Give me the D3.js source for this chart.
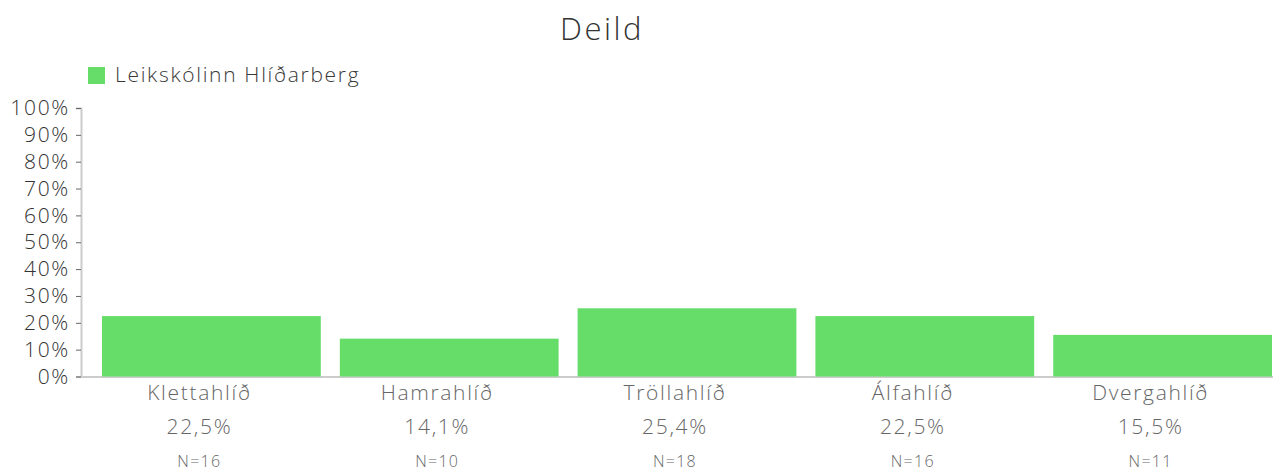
<!DOCTYPE html>
<html>
<head>
<meta charset="utf-8">
<script src="https://cdn.jsdelivr.net/npm/d3@7"></script>
<style>
  body { margin: 0; background: #fff; }
  svg text { font-family: "Open Sans", "Noto Sans", sans-serif; font-weight: 300; letter-spacing: 0.08em; }
</style>
</head>
<body>
<div id="chart"></div>
<script>
// data
var categories = ["Klettahlíð", "Hamrahlíð", "Tröllahlíð", "Álfahlíð", "Dvergahlíð"];
var percents = [22.5, 14.1, 25.4, 22.5, 15.5];
var counts = [16, 10, 18, 16, 11];
var yTicks = [0, 10, 20, 30, 40, 50, 60, 70, 80, 90, 100];
var seriesName = "Leikskólinn Hlíðarberg";
var chartTitle = "Deild";

var width = 1279, height = 471;
var barColor = "#66dc69";

var svg = d3.select("#chart").append("svg")
    .attr("width", width)
    .attr("height", height);

var x = d3.scaleBand()
    .domain(categories)
    .range([92.5, 1281.5])
    .paddingInner(0.08)
    .paddingOuter(0.04);

var y = d3.scaleLinear()
    .domain([0, 100])
    .range([376.5, 108]);

// title
svg.append("text")
    .attr("x", 602)
    .attr("y", 40)
    .attr("text-anchor", "middle")
    .attr("font-size", "31px")
    .attr("fill", "#333")
    .text(chartTitle);

// legend
svg.append("rect")
    .attr("x", 88).attr("y", 67)
    .attr("width", 17).attr("height", 17)
    .attr("fill", barColor);
svg.append("text")
    .attr("x", 115).attr("y", 82)
    .attr("font-size", "21px")
    .attr("fill", "#3a3a3a")
    .text(seriesName);

// y axis
var yAxis = svg.append("g")
    .attr("transform", "translate(81,0)")
    .call(d3.axisLeft(y).tickValues(yTicks).tickSize(5).tickFormat(function(d) { return d + "%"; }));
yAxis.select(".domain").attr("stroke", "#ccc").attr("stroke-width", 2);
yAxis.selectAll(".tick line").attr("stroke", "#666");
yAxis.selectAll(".tick text")
    .attr("font-size", "21px")
    .attr("fill", "#333")
    .attr("x", -11)
    .attr("font-family", null);

// baseline
svg.append("line")
    .attr("x1", 81).attr("x2", 1273)
    .attr("y1", y(0) + 0.5).attr("y2", y(0) + 0.5)
    .attr("stroke", "#ccc")
    .attr("stroke-width", 2);

// bars
svg.selectAll(".bar")
    .data(categories)
    .enter().append("rect")
    .attr("class", "bar")
    .attr("x", function(d) { return x(d); })
    .attr("width", x.bandwidth())
    .attr("y", function(d, i) { return y(percents[i]); })
    .attr("height", function(d, i) { return y(0) - y(percents[i]); })
    .attr("fill", barColor);

// category labels (sit a little left of the bar centre, as in the original)
var labels = svg.selectAll(".lab")
    .data(categories)
    .enter().append("g")
    .attr("class", "lab")
    .attr("transform", function(d) { return "translate(" + (x(d) + x.bandwidth() / 2 - 12) + ",0)"; });

labels.append("text")
    .attr("y", 400)
    .attr("text-anchor", "middle")
    .attr("font-size", "21px")
    .attr("fill", "#666")
    .text(function(d) { return d; });

labels.append("text")
    .attr("y", 434)
    .attr("text-anchor", "middle")
    .attr("font-size", "21px")
    .attr("fill", "#666")
    .text(function(d, i) { return percents[i].toFixed(1).replace(".", ",") + "%"; });

labels.append("text")
    .attr("y", 467)
    .attr("text-anchor", "middle")
    .attr("font-size", "16px")
    .attr("fill", "#666")
    .text(function(d, i) { return "N=" + counts[i]; });
</script>
</body>
</html>
